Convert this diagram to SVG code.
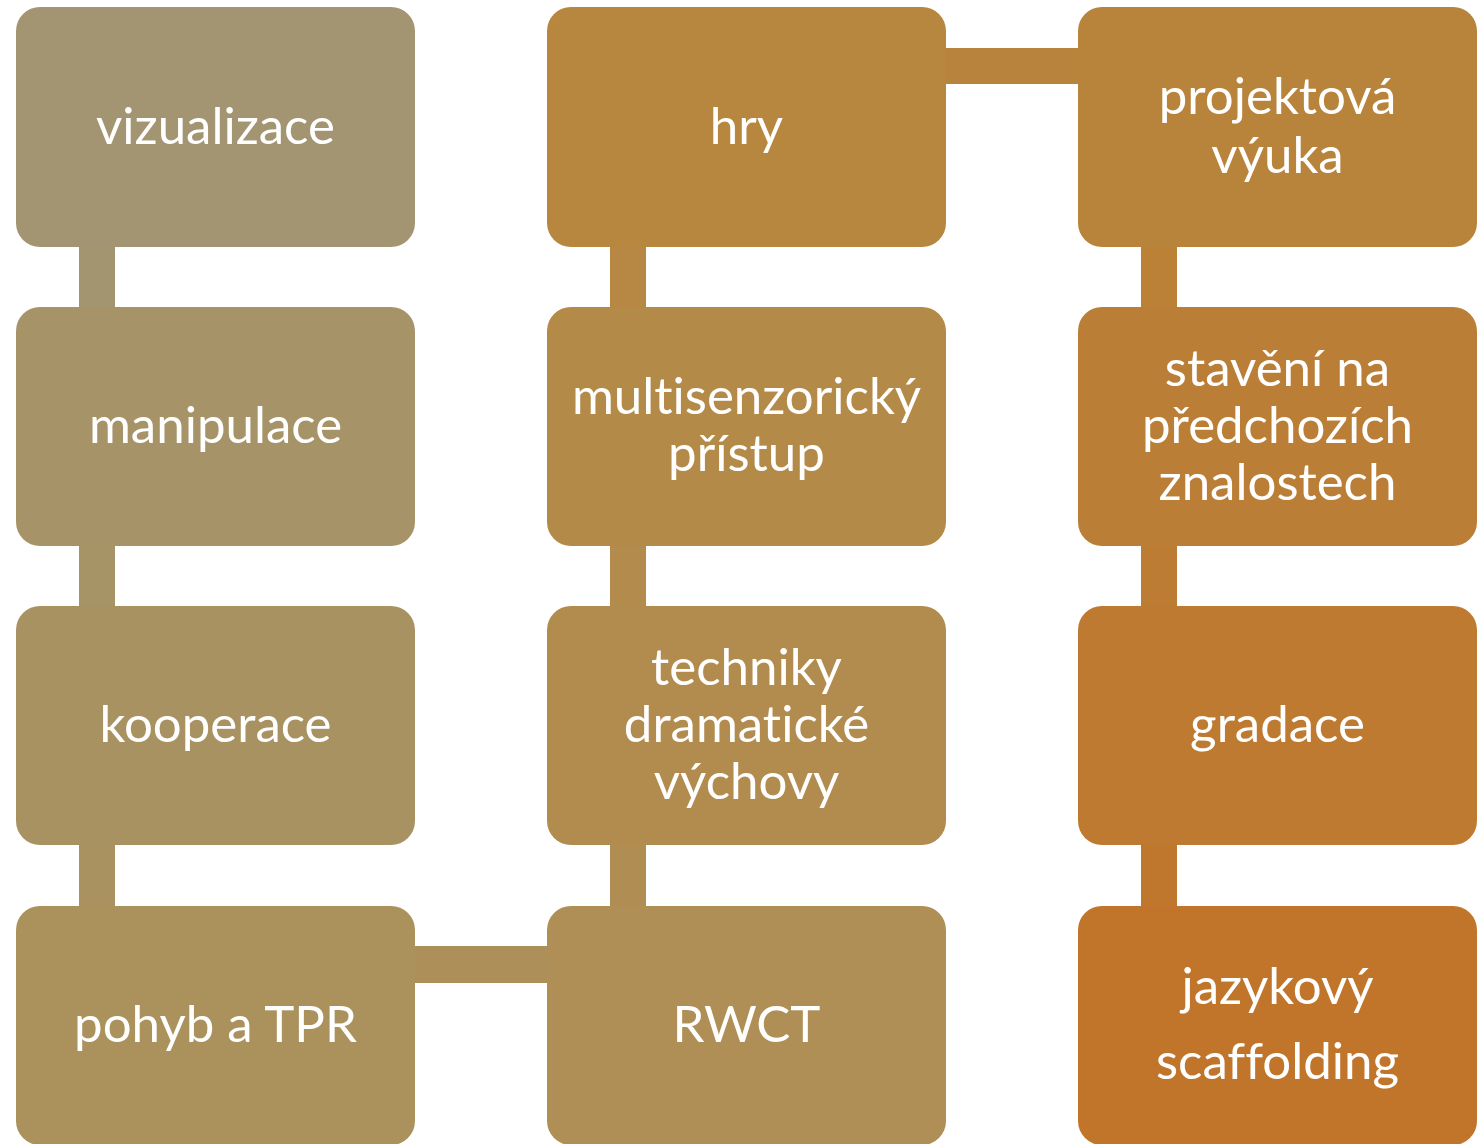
<svg xmlns="http://www.w3.org/2000/svg" width="1481" height="1144" viewBox="0 0 1481 1144">
<style>
.box{stroke:none}
.t{font-family:Lato,"Open Sans","Liberation Sans",sans-serif;font-size:51px;fill:#FFFFFF;text-anchor:middle;font-variant-ligatures:none}
</style>
<rect width="1481" height="1144" fill="#FFFFFF"/>
<g id="connectors">
<rect x="79" y="240" width="36" height="74" fill="#A39570"/>
<rect x="79" y="540" width="36" height="74" fill="#A69366"/>
<rect x="79" y="838" width="36" height="74" fill="#A99260"/>
<rect x="410" y="946" width="142" height="37" fill="#AD9059"/>
<rect x="610" y="838" width="36" height="74" fill="#B08E53"/>
<rect x="610" y="540" width="36" height="74" fill="#B38B4C"/>
<rect x="610" y="240" width="36" height="74" fill="#B68843"/>
<rect x="940" y="48" width="144" height="36" fill="#B8843D"/>
<rect x="1141" y="240" width="36" height="74" fill="#BA8137"/>
<rect x="1141" y="540" width="36" height="74" fill="#BD7C33"/>
<rect x="1141" y="838" width="36" height="74" fill="#BF772D"/>
</g>
<g id="n1"><rect class="box" x="16" y="7" width="399" height="240" rx="24" fill="#A39572"/><text class="t" x="215.5" y="144">vizualizace</text></g>
<g id="n2"><rect class="box" x="16" y="307" width="399" height="239" rx="24" fill="#A69468"/><text class="t" x="215.5" y="443">manipulace</text></g>
<g id="n3"><rect class="box" x="16" y="606" width="399" height="239" rx="24" fill="#A99262"/><text class="t" x="215.5" y="742">kooperace</text></g>
<g id="n4"><rect class="box" x="16" y="906" width="399" height="239" rx="24" fill="#AB915C"/><text class="t" x="215.5" y="1042">pohyb a TPR</text></g>
<g id="n5"><rect class="box" x="547" y="906" width="399" height="239" rx="24" fill="#AF8F56"/><text class="t" x="746.5" y="1042">RWCT</text></g>
<g id="n6"><rect class="box" x="547" y="606" width="399" height="239" rx="24" fill="#B28C4F"/><text class="t" x="746.5" y="685">techniky</text><text class="t" x="746.5" y="742">dramatické</text><text class="t" x="746.5" y="799">výchovy</text></g>
<g id="n7"><rect class="box" x="547" y="307" width="399" height="239" rx="24" fill="#B48A48"/><text class="t" x="746.5" y="414">multisenzorický</text><text class="t" x="746.5" y="471">přístup</text></g>
<g id="n8"><rect class="box" x="547" y="7" width="399" height="240" rx="24" fill="#B7863F"/><text class="t" x="746.5" y="144">hry</text></g>
<g id="n9"><rect class="box" x="1078" y="7" width="399" height="240" rx="24" fill="#B8833B"/><text class="t" x="1277.5" y="114">projektová</text><text class="t" x="1277.5" y="173">výuka</text></g>
<g id="n10"><rect class="box" x="1078" y="307" width="399" height="239" rx="24" fill="#BB7E36"/><text class="t" x="1277.5" y="386">stavění na</text><text class="t" x="1277.5" y="443">předchozích</text><text class="t" x="1277.5" y="500">znalostech</text></g>
<g id="n11"><rect class="box" x="1078" y="606" width="399" height="239" rx="24" fill="#BE7A30"/><text class="t" x="1277.5" y="742">gradace</text></g>
<g id="n12"><rect class="box" x="1078" y="906" width="399" height="239" rx="24" fill="#C0752B"/><text class="t" x="1277.5" y="1004">jazykový</text><text class="t" x="1277.5" y="1079">scaffolding</text></g>
</svg>
